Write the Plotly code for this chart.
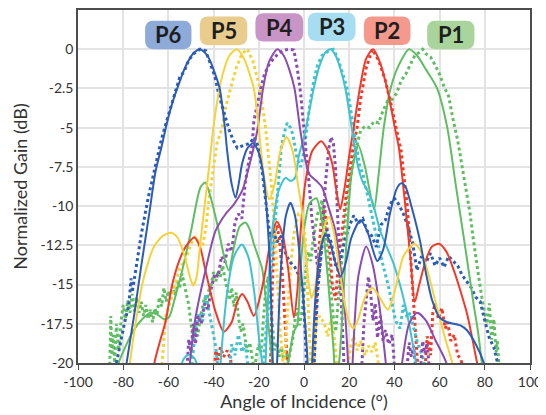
import plotly.graph_objects as go

# ---------------- data ----------------
p6_solid_x = [-80, -78.5, -75, -72, -68.5, -65.7, -63, -60.5, -58, -55.6, -53, -51, -48.5, -46, -44, -42, -39.5, -37.3, -35, -34, -32, -30.3, -28.8, -27.4, -25, -22.5, -20, -18, -16.6, -15, -13.8, -12.9, -11.9, -10, -8, -6, -4, -2, 0, 1.6, 2.6, 3.6, 5.5, 7.5, 9.5, 11.5, 13.5, 16.2, 18.5, 21, 25, 28, 30.5, 32.4, 35, 38, 41, 43.1, 45, 47.5, 51.3, 54, 56.7, 60, 63.4, 69.2, 72, 76, 79.6, 81]
p6_solid_y = [-21.5, -20, -16.8, -13.8, -10.5, -7.8, -6.2, -4.6, -3.3, -2.3, -1.3, -0.7, -0.2, 0, -0.2, -0.6, -1.5, -2.5, -5, -6.5, -8.6, -9.46, -8.5, -7.3, -6.3, -6, -6.6, -8, -10.1, -14, -20, -26, -20, -13.5, -10.6, -9.78, -10.6, -13, -16.5, -20, -26, -20, -15, -12.6, -11.8, -12.3, -13.4, -14.5, -13.6, -12, -10.9, -11.6, -12.8, -13.5, -12.8, -10.5, -8.9, -8.55, -8.8, -10, -12.2, -14.3, -16.0, -17.1, -17.4, -17.6, -17.9, -18.8, -20, -21]

p5_solid_x = [-78, -77, -74, -71.6, -69, -66.5, -62.5, -58.8, -56, -53, -50.5, -49, -47.5, -46, -44, -42, -40.1, -38, -36, -33, -29.8, -26.5, -24, -22.2, -20, -19, -17.5, -15.4, -13, -10.5, -7.7, -5, -3, -1.2, 0.5, 2, 3.3, 5, 7, 9, 11, 13, 15.4, 18, 20, 21.8, 24, 27, 30.2, 33, 37.1, 40, 44, 48.6, 51, 54, 58, 62, 65.6, 67]
p5_solid_y = [-22, -20, -17, -15, -13.6, -12.6, -11.9, -11.7, -12, -13.1, -14.5, -15.07, -14.5, -12.5, -10, -7.5, -5, -3, -1.6, -0.4, 0, -0.6, -1.6, -2.5, -5, -6.5, -8.3, -9.55, -8.6, -6.5, -5.6, -6.5, -8.3, -10, -12.5, -14.8, -15.85, -15.1, -12.8, -11.3, -10.7, -11.5, -13.7, -16.2, -17.4, -17.8, -17.2, -15.8, -15.2, -15.7, -16.6, -15.5, -13.2, -12.4, -12.7, -13.8, -16, -18.2, -20, -21]

p4_solid_x = [-52, -50.5, -48, -43.6, -39.2, -34.7, -31.1, -27.3, -24, -20.7, -18.1, -15.5, -11.8, -9, -6.5, -4.2, -1.8, 0.5, 2.5, 5.5, 8, 10.5, 13.9, 16, 17.6, 19.5, 20.5, 21.5, 24, 27.5, 30.5, 33.5, 36.2, 40, 43.4, 46.5, 50.1, 54, 58, 63, 65]
p4_solid_y = [-23, -20, -17.1, -14.1, -11.6, -10.5, -9.9, -9.0, -7.3, -5.2, -2.5, -0.8, 0, -0.4, -1.3, -2.5, -5, -7, -8, -8.4, -8.8, -9.9, -11.6, -13.8, -15.8, -20, -24, -20, -14.5, -12.57, -13.8, -16.5, -20, -25, -20, -17.5, -16.8, -17.3, -18.5, -20, -22]

p3_solid_x = [-55, -54, -52.5, -50.5, -48.5, -47, -46, -41, -36.9, -34, -31, -27.5, -24.5, -22, -19.5, -18.5, -17.8, -17, -15.5, -14.1, -11.2, -8.2, -6, -4, -2.3, 0, 1.6, 4.3, 7, 9.5, 11.7, 14, 16, 18.3, 21.1, 23.5, 25.8, 28, 30.2, 33.8, 39.7, 44.9, 49.3, 50.5]
p3_solid_y = [-21, -20, -19.6, -19.47, -19.7, -20.3, -22, -30, -20, -15.5, -13.2, -12.45, -13.3, -15.5, -19, -20, -24, -20, -14.5, -11.6, -9.0, -8.2, -8.4, -8.2, -6.8, -5.6, -4.5, -2.5, -1.0, -0.2, 0, -0.4, -1.2, -2.5, -5, -7.2, -8.4, -9.0, -9.7, -11.6, -13.7, -16.4, -19.8, -21]

p2_solid_x = [-67.5, -66.2, -63.5, -61.3, -58.3, -55, -52.4, -48.5, -46, -43.6, -39.2, -35.5, -32, -29.5, -27.3, -25, -22.2, -19.5, -17, -14.5, -12, -9.5, -7, -4.5, -3, -1.5, 0.7, 3.6, 7.6, 10, 12.5, 14, 16, 18, 20, 22, 24.7, 27.5, 30.6, 33.5, 36.8, 40.2, 42, 44.9, 47.1, 49, 51, 53.8, 56.5, 59.7, 63, 66.3, 69, 72.2, 76.6, 78]
p2_solid_y = [-22, -20, -18.5, -17.4, -15, -13.4, -12.6, -12, -12.6, -14.1, -16.7, -18, -17.4, -16.1, -15.6, -16.1, -17, -15.8, -14.1, -12, -11, -11.8, -14, -17.1, -15.5, -11.6, -8.4, -6.5, -5.86, -6.3, -7.3, -8.7, -10.2, -8.8, -6.8, -5, -2.5, -0.6, 0, -0.8, -2.5, -5, -6.3, -10.1, -13.3, -16.1, -15, -13.5, -12.6, -12.4, -12.9, -14.1, -15.3, -16.9, -20, -21]

p1_solid_x = [-84, -82, -78.5, -75.3, -71.5, -67.9, -65, -62, -59.8, -57, -53.9, -50, -45.8, -43.7, -41, -37.7, -35.5, -33.3, -31, -28.5, -25.9, -24, -22.2, -20.3, -18.5, -16.3, -14, -11, -7, -4.5, -3, -1.5, 0, 2.5, 5.5, 8, 10.5, 13, 14, 15.5, 18.5, 21, 24, 27, 31, 33, 35.3, 38.3, 42, 46.5, 50, 54, 58.9, 63.4, 67, 71, 75, 77, 78.7, 80]
p1_solid_y = [-21.5, -20, -18.8, -17.9, -17.2, -16.8, -16.9, -17.2, -17.1, -15.8, -14.1, -11.6, -8.8, -8.5, -9.6, -11.6, -13.1, -14.1, -12.6, -11.3, -11.05, -11.5, -12.4, -13.2, -14.0, -16.8, -20, -24, -20, -18, -17.6, -14, -11.5, -9.8, -9.5, -11, -14.5, -19, -21, -20, -13, -8, -6.1, -7.5, -10.2, -8, -5, -2.5, -1, 0, -0.4, -1.3, -2.5, -5, -8.5, -12.3, -16.2, -18, -20, -21.5]

p6_dot_x = [-83, -81, -79.5, -77.5, -76.5, -76, -74.5, -72, -69, -66, -63, -60, -57, -55, -53, -51, -49, -46, -43.5, -41.5, -39.5, -37.5, -35, -33, -31, -29.5, -28, -26, -24, -22, -20, -18.5, -16.5, -15, -13.5, -12, -10, -8, -6, -4, -2, -0.5, 0.5, 1.5, 3, 4.5, 6, 8, 10, 12, 14, 16, 18, 20, 22, 24, 26, 28, 30, 32, 34, 36, 38, 40, 42, 44, 46, 48, 50, 52, 54, 56, 58, 60, 62, 64, 66, 68, 70, 72, 74, 76, 78, 80, 82, 84, 85.5, 86.5]
p6_dot_y = [-20, -18.5, -17.5, -16.3, -14.6, -15.5, -14.2, -11.8, -9.5, -7.5, -5.7, -4.2, -2.8, -1.8, -1.4, -0.7, -0.3, 0, -0.1, -0.9, -1.7, -3.0, -4.3, -5.2, -5.9, -6.3, -6.2, -6.1, -6.0, -5.6, -6.3, -7.8, -10, -12, -11.6, -12.3, -11.9, -13.1, -13.6, -13.9, -14.5, -15.3, -18, -22, -26, -20, -15.5, -12.5, -11.5, -12.3, -13.8, -13.5, -12.2, -11.3, -10.6, -11.1, -10.8, -11.6, -11.9, -12.6, -11.2, -10.9, -9.9, -9.5, -9.9, -10.5, -11.3, -12.3, -14.1, -13.2, -13.6, -13.0, -13.8, -13.3, -13.9, -13.2, -13.5, -13.8, -14.4, -14.8, -15.2, -15.8, -16.1, -17.3, -18.4, -19, -19.8, -20.5]

p5_dot_x = [-63, -61.3, -58, -55, -52, -50, -48, -46.5, -45, -43.5, -42, -40, -38.5, -36.2, -34.5, -32.5, -30, -27.5, -25, -22.5, -19.5, -17, -16, -14.5, -13, -11.5, -10.5, -9, -7.5, -6, -4.5, -2.5, -1, 0.5, 1.5, 2.5, 3.5, 4, 5, 7, 9, 10.5, 12, 13.5, 15, 17, 19, 20.5, 22, 23.5, 25, 27, 28.5, 30, 31.5, 33, 35]
p5_dot_y = [-20.5, -17.1, -15.5, -14, -13.3, -12.4, -11.9, -12.5, -12.6, -11.5, -9.5, -7.5, -6, -5, -3.6, -2.5, -1.2, -0.3, 0, -0.8, -2.5, -5, -6.5, -8.5, -11.5, -15, -18, -20.5, -17.5, -14, -11.8, -10.5, -10.5, -12, -15, -18.5, -22, -20, -17.5, -17, -17.5, -18.3, -17.2, -18.5, -20.5, -24, -21, -19, -18.3, -19.2, -18.6, -19.5, -18.9, -19.3, -18.7, -20.2, -22]

p4_dot_x = [-52, -51, -50, -49, -48, -47, -45.5, -44, -42.5, -41, -39.5, -38, -36.5, -35, -33.5, -32, -30.5, -29, -27.5, -26, -24.5, -23, -22.2, -20.5, -19.2, -17.5, -15.6, -13.5, -11.9, -9.5, -7, -4.5, -3, -1.5, 0, 1.2, 2.5, 3.5, 5, 6.5, 8, 9.5, 11, 12, 13, 14, 15, 16, 17, 17.8, 21, 25.5, 26.5, 27.5, 28.5, 29.5, 30.5, 31.5, 32.5, 33.8, 35, 36, 37.5, 39, 40, 43, 45.5, 46.5, 47.5, 48.5, 49.5, 50.5, 51.5, 52.5, 53.5, 54.5, 55.5]
p4_dot_y = [-21, -18.5, -19.3, -17.5, -18.8, -17, -17.5, -16.2, -16.6, -15.2, -14.3, -14.5, -13.2, -13.6, -12.4, -12.9, -11, -10.5, -10.8, -8.5, -7.2, -6.2, -4.6, -3.3, -2.5, -1.6, -1.0, -0.6, -0.36, -0.1, 0, -0.05, -1.2, -2.8, -5, -7, -9, -10.8, -12.8, -14.5, -12, -8.5, -6.3, -5.6, -6, -7.7, -11, -14.5, -18, -20.5, -26, -20.5, -17.5, -16, -14.5, -15.5, -17.3, -16.2, -18.4, -17, -18.6, -17.9, -18.8, -18.2, -20.5, -26, -20.5, -18.7, -19.6, -18.9, -20.5, -24, -20.5, -18.6, -19.4, -18.7, -20.5]

p3_dot_x = [-50, -48, -46.5, -45, -43.5, -42, -40.5, -39, -38, -35.5, -33, -32, -30.5, -29, -27.5, -26, -24.5, -21, -18, -16, -14, -12, -10, -8.5, -7.4, -6, -5, -3, -1.5, 0, 1.4, 2.5, 4.3, 6, 8, 10, 11.5, 13, 15, 17, 19.1, 20.5, 22, 24.7, 26, 28.5, 30.2, 33.8, 37.5, 40.5, 42.5, 44, 45.7, 47, 48.4, 50, 51.5, 53, 54]
p3_dot_y = [-20.5, -18, -16.8, -17.5, -15.6, -16.7, -17.8, -19, -20.5, -28, -20.5, -18.8, -19.5, -18.2, -19.3, -18.8, -20.5, -28, -20, -16.5, -13, -9.5, -6.2, -5.2, -4.7, -5.0, -5.4, -7, -7.5, -6.5, -4.8, -3.6, -2.0, -1.0, -0.4, -0.2, -0.05, 0, -0.6, -1.5, -2.5, -3.7, -5, -7.5, -7.9, -9.6, -10.7, -13.1, -15.2, -17.3, -17.8, -16.3, -17.1, -16.8, -17.7, -18.6, -19.2, -19.8, -21]

p2_dot_x = [-40, -39, -38, -37, -35.5, -34, -32.5, -31.5, -23, -15, -14, -13, -12, -10.8, -9.5, -8.2, -7, -2, 4, 5.5, 6.5, 7.7, 9, 10, 11.5, 12.5, 14, 15.5, 17, 18.5, 20, 21.5, 23.5, 25, 27.5, 30.2, 33, 36, 38.5, 41.2, 43, 44.5, 45.7, 47, 48.6, 50, 50.8, 52, 53.5, 54.5, 56, 57, 58, 59.5, 61, 62.5, 63.5, 65, 66.5, 68, 69.5, 70.5]
p2_dot_y = [-21, -19.2, -19.8, -19, -19.6, -19.2, -19.8, -20.5, -28, -21, -15, -11.8, -11.2, -12.2, -14.5, -17.8, -21, -28, -21, -16, -13, -10.8, -10, -11.2, -13, -15, -16, -13, -11.5, -9.5, -8, -6.5, -5.0, -3.2, -1.2, 0, -0.7, -2, -3.5, -5.4, -6.5, -8.5, -10, -12.8, -16, -18.5, -20.5, -24, -20.5, -18.3, -19.5, -16.8, -16.2, -17.2, -16.5, -17.8, -17.4, -18.6, -18.2, -19.5, -19.8, -20.5]

p1_dot_x = [-86, -85.5, -85, -84.5, -83.8, -83, -82, -81, -80, -79, -78, -77, -76, -75, -74, -73, -72, -71, -70, -69, -68, -67, -66, -65, -64, -63, -62, -61, -60, -59, -58, -57, -56, -55, -54, -53, -52, -51, -50, -49, -48, -47, -46, -45, -44, -43, -42, -41, -40, -39, -38, -37, -36, -35, -34, -33, -32, -31, -30, -29, -28, -27, -26, -25, -24, -23, -22, -21, -20, -19, -18, -17, -16, -15, -14, -13, -12, -11, -10, -9, -8, -7, -6, -5, -4, -3, -2, -1, 0, 1, 2, 3, 4, 5, 6, 7, 8, 9, 10, 11, 12, 13, 14, 15.5, 17, 18.5, 20, 21.5, 23, 25, 27, 29, 31, 33, 35, 37, 39, 41, 43, 45, 47, 49, 51, 52.5, 54, 56, 58, 60, 62, 64, 66, 68, 70, 72, 73.5, 75, 76.5, 78, 79.5, 81, 82, 83, 84, 85, 85.5, 86.5]
p1_dot_y = [-20.5, -17, -19.5, -18.2, -20, -17.5, -19.2, -17.4, -16.3, -17.2, -16, -16.8, -15.6, -16.7, -15.8, -16.8, -16.1, -17, -16.3, -17.2, -16.6, -17.4, -16.5, -16.9, -15.8, -16.4, -15.2, -16.1, -15.4, -15.9, -15.1, -15.7, -14.7, -15.2, -14.3, -14.9, -15.5, -16.3, -17.5, -18.6, -17.4, -18.3, -17.2, -16.5, -15.8, -16.2, -15.3, -15.0, -14.2, -14.8, -14.1, -14.5, -13.8, -14.6, -15.2, -16, -15.2, -16.4, -15.5, -17.1, -18, -17.5, -18.5, -19.3, -18.7, -19.6, -20.5, -19.5, -18.8, -19.3, -17.6, -15.4, -14.5, -15.8, -17.5, -19.2, -18.7, -19.6, -19, -19.8, -19.2, -19.9, -19.3, -18.5, -17.3, -16.5, -17.6, -16.8, -15.5, -13.8, -12.9, -13.5, -12.2, -11.4, -10.5, -10.2, -9.6, -10.8, -12.4, -13.9, -15.6, -17.1, -18, -15.5, -12.5, -10.5, -8.8, -7.3, -6.4, -5.2, -4.9, -5.0, -4.6, -4.7, -3.9, -3.3, -3.2, -2.8, -2.0, -1.6, -1.0, -0.4, -0.2, 0, -0.3, -0.5, -1.0, -1.6, -2.4, -3.0, -4.5, -5.8, -7.5, -9.2, -10.5, -12.2, -13.8, -15.2, -16.5, -17.5, -16.2, -18.5, -17.2, -19.3, -18.6, -20.5]

labels = ["P6", "P5", "P4", "P3", "P2", "P1"]
label_x0 = [-70.3, -46.1, -21.5, 1.7, 26.5, 54.5]
label_x1 = [-49.8, -25.1, -0.4, 22.8, 47.1, 75.4]
label_y0 = [0.0, 0.26, 0.49, 0.53, 0.27, 0.0]
label_y1 = [1.82, 2.08, 2.29, 2.33, 2.08, 1.82]

x_ticks = [-100, -80, -60, -40, -20, 0, 20, 40, 60, 80, 100]
y_ticks = [0, -2.5, -5, -7.5, -10, -12.5, -15, -17.5, -20]

# ---------------- styling ----------------
line_colors = {"P1": "#5fbe62", "P2": "#ef3b2c", "P3": "#40c2cf",
               "P4": "#8b4cb0", "P5": "#f5d23a", "P6": "#2b5cb6"}
box_colors = {"P1": "#a9d59c", "P2": "#f4998c", "P3": "#a6ddf0",
              "P4": "#c994c6", "P5": "#e8cd8d", "P6": "#8daad9"}

series = [
    ("P1", p1_solid_x, p1_solid_y, p1_dot_x, p1_dot_y),
    ("P2", p2_solid_x, p2_solid_y, p2_dot_x, p2_dot_y),
    ("P3", p3_solid_x, p3_solid_y, p3_dot_x, p3_dot_y),
    ("P4", p4_solid_x, p4_solid_y, p4_dot_x, p4_dot_y),
    ("P5", p5_solid_x, p5_solid_y, p5_dot_x, p5_dot_y),
    ("P6", p6_solid_x, p6_solid_y, p6_dot_x, p6_dot_y),
]

fig = go.Figure()
for name, sx, sy, dx, dy in series:
    fig.add_trace(go.Scatter(x=dx, y=dy, mode="lines", name=name + " measured",
                             line=dict(color=line_colors[name], width=3, dash="dot"),
                             showlegend=False, hoverinfo="skip"))
for name, sx, sy, dx, dy in series:
    fig.add_trace(go.Scatter(x=sx, y=sy, mode="lines", name=name + " simulated",
                             line=dict(color=line_colors[name], width=2, shape="spline",
                                       smoothing=0.7),
                             showlegend=False, hoverinfo="skip"))


def rounded_rect(x0, x1, y0, y1, rx, ry):
    return (f"M {x0+rx},{y0} L {x1-rx},{y0} Q {x1},{y0} {x1},{y0+ry} "
            f"L {x1},{y1-ry} Q {x1},{y1} {x1-rx},{y1} L {x0+rx},{y1} "
            f"Q {x0},{y1} {x0},{y1-ry} L {x0},{y0+ry} Q {x0},{y0} {x0+rx},{y0} Z")


for lab, x0, x1, y0, y1 in zip(labels, label_x0, label_x1, label_y0, label_y1):
    fig.add_shape(type="path", xref="x", yref="y",
                  path=rounded_rect(x0, x1, y0, y1, 3.6, 0.55),
                  fillcolor=box_colors[lab], line=dict(width=0), layer="above")
    fig.add_annotation(x=(x0 + x1) / 2, y=(y0 + y1) / 2, text="<b>" + lab + "</b>",
                       showarrow=False, xref="x", yref="y",
                       font=dict(family="Lato", size=22, color="#1e1e1e"))

# The page body has an 8px default margin, so the figure is sized and
# its margins shifted to keep the plot area where the reference has it.
fig.update_layout(
    width=538, height=407,
    margin=dict(l=70, r=16, t=0, b=52),
    paper_bgcolor="white", plot_bgcolor="white",
    font=dict(family="Lato", color="#333333"),
    showlegend=False,
)
fig.update_xaxes(range=[-100, 100], tickvals=x_ticks, ticktext=[str(v) for v in x_ticks],
                 showgrid=True, gridcolor="#e3e3e3", gridwidth=1.5,
                 showline=True, linecolor="#4d4d4d", linewidth=1.5, mirror=True,
                 ticks="outside", ticklen=5, tickcolor="#4d4d4d",
                 tickfont=dict(size=14, color="#333333"), zeroline=False,
                 title=dict(text="Angle of Incidence (°)", font=dict(size=18, color="#333333"),
                            standoff=4))
fig.update_yaxes(range=[-20, 2.5], tickvals=y_ticks, ticktext=[f"{v:g}" for v in y_ticks],
                 showgrid=True, gridcolor="#e3e3e3", gridwidth=1.5,
                 showline=True, linecolor="#4d4d4d", linewidth=1.5, mirror=True,
                 ticks="", tickfont=dict(size=14, color="#333333"), zeroline=False,
                 title=dict(text="Normalized Gain (dB)", font=dict(size=18, color="#333333"),
                            standoff=8))

fig.write_html("out.html")
